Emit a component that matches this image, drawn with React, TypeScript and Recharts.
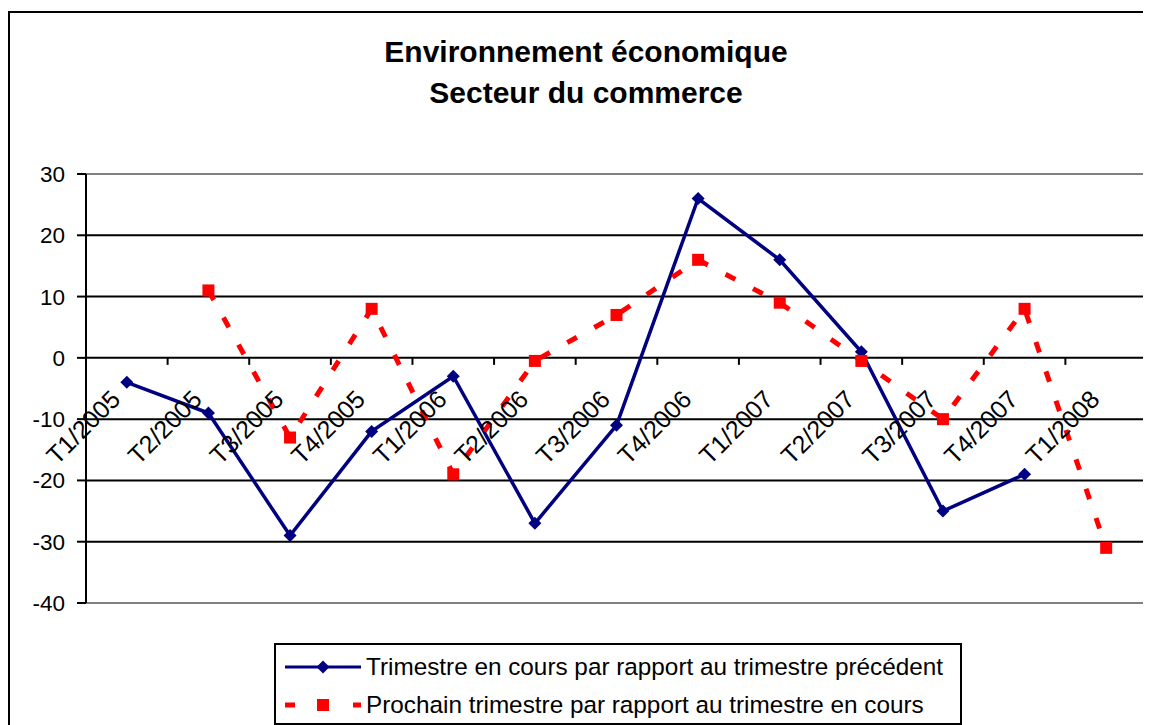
import React from 'react';
import { LineChart, Line, XAxis, YAxis, CartesianGrid, ReferenceArea } from 'recharts';

const CATEGORIES = [
  'T1/2005', 'T2/2005', 'T3/2005', 'T4/2005',
  'T1/2006', 'T2/2006', 'T3/2006', 'T4/2006',
  'T1/2007', 'T2/2007', 'T3/2007', 'T4/2007',
  'T1/2008',
];

// trimestre en cours par rapport au trimestre précédent
const EN_COURS = [-4, -9, -29, -12, -3, -27, -11, 26, 16, 1, -25, -19, null];
// prochain trimestre par rapport au trimestre en cours
const PROCHAIN = [null, 11, -13, 8, -19, -0.5, 7, 16, 9, -0.5, -10, 8, -31];

const Y_TICKS = [30, 20, 10, 0, -10, -20, -30, -40];

const SERIES_NAMES = [
  'Trimestre en cours par rapport au trimestre précédent',
  'Prochain trimestre par rapport au trimestre en cours',
];

const data = CATEGORIES.map((cat, i) => ({ cat, enCours: EN_COURS[i], prochain: PROCHAIN[i] }));

const FONT = '"Liberation Sans", Arial, sans-serif';
const W = 1141;
const H = 712;
const X_AXIS_H = 1;
const MARGIN = { top: 161, right: 4, bottom: 122 - X_AXIS_H, left: 6 };
const Y_AXIS_W = 70;
const Y_MIN = -40;
const Y_MAX = 30;
const plotW = W - MARGIN.left - MARGIN.right - Y_AXIS_W;
const plotH = H - MARGIN.top - MARGIN.bottom - X_AXIS_H;
const band = plotW / CATEGORIES.length;
const zeroY = MARGIN.top + plotH * (Y_MAX / (Y_MAX - Y_MIN));

const BLUE = '#000080';
const RED = '#ff0000';

function Diamond(props: any) {
  const { cx, cy, index } = props;
  if (cx == null || cy == null || props.value == null) return <g key={index} />;
  const r = 6.5;
  return (
    <polygon
      key={index}
      points={`${cx},${cy - r} ${cx + r},${cy} ${cx},${cy + r} ${cx - r},${cy}`}
      fill={BLUE}
    />
  );
}

function Square(props: any) {
  const { cx, cy, index } = props;
  if (cx == null || cy == null || props.value == null) return <g key={index} />;
  const s = 12;
  return <rect key={index} x={cx - s / 2} y={cy - s / 2} width={s} height={s} fill={RED} />;
}

// category labels sit under the zero line, like the original
function CatTick(props: any) {
  const { x, index, payload } = props;
  return (
    <g>
      <line x1={x + band / 2} x2={x + band / 2} y1={zeroY} y2={zeroY + 7} stroke="#000" strokeWidth={2} />
      {index === 0 && (
        <line x1={x - band / 2} x2={x - band / 2} y1={zeroY} y2={zeroY + 7} stroke="#000" strokeWidth={2} />
      )}
      <text
        x={0}
        y={0}
        transform={`translate(${x - 5},${zeroY + 43}) rotate(-45)`}
        textAnchor="end"
        fontSize={25}
        fontFamily={FONT}
        fill="#000"
      >
        {payload.value}
      </text>
    </g>
  );
}

function LegendBox() {
  return (
    <div
      style={{
        position: 'absolute',
        left: 264,
        top: 630,
        width: 684,
        height: 78,
        border: '2px solid #000',
        fontFamily: FONT,
        fontSize: 24.3,
        background: '#fff',
      }}
    >
      <div style={{ position: 'absolute', left: 7, top: 8, display: 'flex', alignItems: 'center', whiteSpace: 'nowrap' }}>
        <svg width={80} height={20}>
          <line x1={2} x2={78} y1={10} y2={10} stroke={BLUE} strokeWidth={3} />
          <polygon points="40,3.5 46.5,10 40,16.5 33.5,10" fill={BLUE} />
        </svg>
        <span style={{ marginLeft: 3 }}>{SERIES_NAMES[0]}</span>
      </div>
      <div style={{ position: 'absolute', left: 7, top: 46, display: 'flex', alignItems: 'center', whiteSpace: 'nowrap' }}>
        <svg width={80} height={20}>
          <line x1={2} x2={12} y1={10} y2={10} stroke={RED} strokeWidth={5} />
          <line x1={70} x2={78} y1={10} y2={10} stroke={RED} strokeWidth={5} />
          <rect x={34} y={4} width={12} height={12} fill={RED} />
        </svg>
        <span style={{ marginLeft: 3 }}>{SERIES_NAMES[1]}</span>
      </div>
    </div>
  );
}

export default function App() {
  return (
    <div style={{ paddingTop: 3 }}>
      <div
        style={{
          position: 'relative',
          width: 1143,
          height: 714,
          borderLeft: '2px solid #000',
          borderTop: '2px solid #000',
          boxSizing: 'border-box',
          overflow: 'hidden',
          background: '#fff',
        }}
      >
        <div
          style={{
            position: 'absolute',
            left: 0,
            top: 18,
            width: 1152,
            textAlign: 'center',
            fontFamily: FONT,
            fontWeight: 'bold',
            fontSize: 30,
            lineHeight: '41px',
          }}
        >
          Environnement économique
          <br />
          Secteur du commerce
        </div>
        <div style={{ position: 'absolute', left: 0, top: 0 }}>
          <LineChart width={W} height={H} data={data} margin={MARGIN}>
            <CartesianGrid
              vertical={false}
              horizontalValues={[20, 10, 0, -10, -20, -30]}
              stroke="#000"
              strokeWidth={2}
            />
            <ReferenceArea y1={Y_MIN} y2={Y_MAX} fill="none" stroke="#808080" strokeWidth={2} ifOverflow="visible" />
            <XAxis
              dataKey="cat"
              scale="band"
              interval={0}
              height={X_AXIS_H}
              tickSize={0}
              tickMargin={0}
              axisLine={false}
              tickLine={false}
              tick={(p: any) => <CatTick key={p.index} {...p} />}
            />
            <YAxis
              width={Y_AXIS_W}
              domain={[Y_MIN, Y_MAX]}
              ticks={Y_TICKS}
              interval={0}
              axisLine={{ stroke: '#000', strokeWidth: 2 }}
              tickLine={{ stroke: '#000', strokeWidth: 2 }}
              tickSize={9}
              tickMargin={12}
              tick={{ fill: '#000', fontSize: 22.5, fontFamily: FONT }}
            />
            <Line
              dataKey="enCours"
              name={SERIES_NAMES[0]}
              stroke={BLUE}
              strokeWidth={3.5}
              dot={<Diamond />}
              activeDot={false}
              isAnimationActive={false}
            />
            <Line
              dataKey="prochain"
              name={SERIES_NAMES[1]}
              stroke={RED}
              strokeWidth={5}
              strokeDasharray="11 20"
              dot={<Square />}
              activeDot={false}
              isAnimationActive={false}
            />
          </LineChart>
        </div>
        <LegendBox />
      </div>
    </div>
  );
}
